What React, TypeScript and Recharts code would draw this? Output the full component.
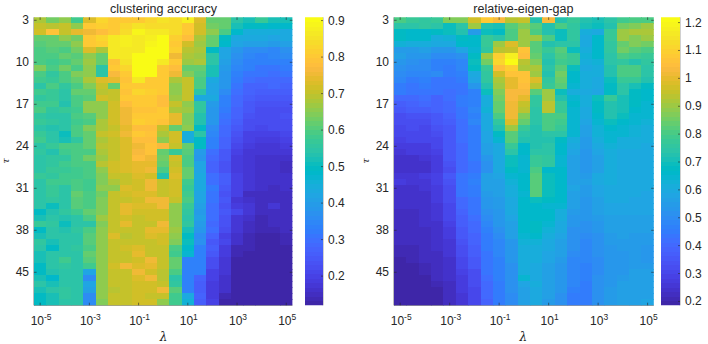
import { ScatterChart, Scatter, XAxis, YAxis } from "recharts";

const LAMBDA_EXP = [-5, -4.5, -4, -3.5, -3, -2.5, -2, -1.5, -1, -0.5, 0, 0.5, 1, 1.5, 2, 2.5, 3, 3.5, 4, 4.5, 5];
const TAU = [3, 4, 5, 6, 7, 8, 9, 10, 11, 12, 13, 14, 15, 16, 17, 18, 19, 20, 21, 22, 23, 24, 25, 26, 27, 28, 29, 30, 31, 32, 33, 34, 35, 36, 37, 38, 39, 40, 41, 42, 43, 44, 45, 46, 47, 48, 49, 50];
const LAMBDA_TICKS = [-5, -3, -1, 1, 3, 5];
const TAU_TICKS = [3, 10, 17, 24, 31, 38, 45];
const ACCURACY_TICKS = [0.2, 0.3, 0.4, 0.5, 0.6, 0.7, 0.8, 0.9];
const GAP_TICKS = [0.2, 0.3, 0.4, 0.5, 0.6, 0.7, 0.8, 0.9, 1, 1.1, 1.2];

// values in hundredths, one row per tau, one column per lambda
const ACCURACY = [
  [68, 63, 66, 58, 73, 83, 80, 80, 81, 83, 85, 84, 88, 73, 62, 62, 55, 52, 57, 52, 52],
  [70, 69, 70, 66, 81, 82, 81, 83, 85, 84, 84, 84, 81, 72, 63, 62, 52, 49, 49, 48, 48],
  [72, 79, 70, 74, 76, 78, 80, 84, 89, 86, 86, 84, 80, 72, 66, 59, 48, 45, 45, 45, 44],
  [62, 62, 66, 63, 80, 83, 86, 88, 87, 88, 90, 82, 78, 68, 62, 49, 44, 43, 43, 42, 43],
  [61, 62, 62, 66, 80, 82, 86, 88, 86, 89, 90, 81, 72, 67, 62, 48, 42, 41, 41, 40, 41],
  [60, 61, 60, 63, 73, 68, 86, 87, 87, 90, 91, 82, 69, 68, 49, 42, 38, 36, 36, 35, 37],
  [60, 60, 62, 61, 66, 62, 86, 87, 90, 91, 90, 76, 68, 67, 54, 42, 37, 35, 34, 35, 36],
  [60, 58, 60, 62, 67, 62, 79, 85, 91, 91, 87, 80, 67, 68, 54, 41, 36, 34, 33, 34, 33],
  [64, 60, 63, 60, 66, 55, 80, 83, 91, 91, 80, 78, 62, 62, 52, 40, 35, 33, 31, 31, 32],
  [60, 56, 60, 64, 66, 54, 77, 80, 91, 90, 80, 76, 64, 61, 52, 38, 34, 31, 31, 30, 31],
  [58, 57, 59, 62, 68, 73, 74, 79, 87, 80, 80, 68, 71, 60, 44, 38, 32, 30, 29, 29, 29],
  [55, 60, 56, 59, 64, 70, 62, 80, 81, 80, 80, 66, 71, 59, 42, 38, 31, 28, 28, 29, 28],
  [58, 57, 55, 62, 62, 69, 71, 79, 83, 82, 80, 66, 71, 54, 42, 36, 30, 27, 26, 26, 26],
  [56, 57, 55, 60, 61, 72, 71, 80, 80, 80, 78, 67, 71, 43, 44, 34, 29, 26, 25, 25, 25],
  [58, 58, 53, 60, 66, 66, 72, 78, 80, 80, 78, 70, 66, 56, 40, 33, 29, 25, 24, 24, 24],
  [60, 56, 57, 58, 66, 66, 72, 76, 79, 79, 81, 68, 67, 56, 38, 32, 28, 25, 23, 23, 23],
  [56, 55, 55, 59, 61, 66, 72, 76, 81, 80, 80, 74, 65, 53, 38, 31, 27, 24, 23, 23, 24],
  [57, 56, 55, 58, 60, 68, 72, 75, 82, 80, 79, 74, 65, 53, 38, 30, 26, 23, 22, 22, 23],
  [55, 53, 55, 60, 65, 68, 71, 74, 78, 78, 70, 62, 66, 50, 36, 29, 25, 22, 21, 22, 22],
  [57, 54, 51, 59, 62, 70, 72, 75, 80, 79, 68, 72, 45, 54, 35, 29, 24, 20, 20, 20, 21],
  [58, 55, 52, 56, 62, 68, 71, 73, 78, 78, 66, 72, 45, 50, 33, 27, 22, 20, 19, 19, 20],
  [55, 57, 60, 59, 62, 69, 71, 73, 75, 79, 77, 70, 62, 50, 33, 27, 21, 19, 18, 18, 19],
  [56, 53, 58, 60, 60, 68, 71, 73, 77, 79, 62, 57, 61, 40, 30, 25, 20, 18, 17, 17, 18],
  [55, 56, 56, 60, 63, 67, 70, 73, 78, 76, 63, 72, 60, 38, 29, 25, 19, 18, 16, 16, 16],
  [55, 56, 58, 59, 60, 69, 72, 73, 74, 74, 62, 71, 60, 42, 28, 24, 19, 17, 16, 16, 15],
  [55, 57, 57, 58, 60, 66, 72, 73, 74, 75, 60, 72, 62, 42, 28, 24, 19, 17, 16, 16, 15],
  [57, 56, 58, 58, 60, 65, 70, 70, 73, 72, 53, 73, 62, 44, 30, 26, 20, 18, 16, 16, 16],
  [55, 58, 58, 60, 58, 65, 68, 71, 72, 75, 70, 72, 58, 43, 30, 26, 20, 17, 16, 16, 16],
  [54, 57, 55, 59, 58, 66, 66, 73, 72, 75, 70, 72, 57, 43, 32, 25, 20, 17, 16, 15, 16],
  [54, 57, 55, 62, 60, 63, 70, 72, 73, 73, 71, 72, 58, 42, 31, 24, 20, 15, 15, 15, 15],
  [54, 56, 54, 61, 60, 65, 71, 71, 72, 76, 75, 70, 60, 42, 31, 25, 18, 16, 15, 15, 15],
  [54, 51, 55, 61, 60, 65, 70, 74, 73, 73, 75, 66, 57, 41, 30, 24, 19, 17, 15, 17, 15],
  [50, 53, 56, 58, 62, 65, 70, 74, 72, 72, 72, 66, 56, 40, 30, 25, 21, 17, 15, 15, 15],
  [52, 55, 53, 55, 60, 67, 70, 72, 71, 72, 72, 66, 54, 41, 30, 24, 18, 16, 14, 15, 15],
  [57, 56, 51, 55, 55, 65, 70, 74, 71, 71, 76, 66, 56, 40, 29, 24, 18, 15, 14, 15, 15],
  [50, 55, 53, 56, 60, 66, 70, 71, 71, 74, 74, 67, 52, 39, 30, 22, 17, 15, 14, 14, 15],
  [52, 54, 55, 54, 61, 66, 73, 69, 71, 73, 72, 66, 50, 36, 27, 20, 16, 14, 13, 13, 14],
  [56, 52, 54, 55, 61, 66, 70, 71, 71, 71, 72, 65, 51, 37, 25, 21, 16, 14, 13, 13, 14],
  [54, 50, 55, 56, 60, 66, 70, 72, 73, 71, 70, 60, 48, 34, 26, 19, 14, 14, 13, 13, 13],
  [52, 55, 55, 54, 62, 66, 70, 71, 74, 70, 70, 58, 47, 34, 25, 19, 14, 13, 13, 13, 13],
  [52, 54, 58, 55, 61, 66, 71, 70, 72, 75, 70, 62, 33, 34, 22, 18, 13, 13, 13, 13, 13],
  [49, 54, 56, 54, 58, 66, 72, 76, 73, 74, 70, 62, 34, 34, 22, 18, 13, 12, 13, 13, 12],
  [50, 53, 55, 54, 42, 66, 70, 70, 76, 72, 69, 60, 33, 34, 20, 17, 13, 12, 12, 12, 12],
  [52, 48, 55, 55, 36, 66, 71, 70, 73, 76, 69, 54, 33, 27, 20, 16, 13, 12, 12, 12, 12],
  [54, 52, 55, 54, 42, 66, 71, 70, 72, 72, 70, 56, 33, 26, 19, 16, 13, 12, 12, 12, 12],
  [52, 54, 56, 55, 41, 66, 69, 70, 72, 72, 75, 61, 33, 26, 19, 16, 12, 12, 12, 12, 12],
  [50, 52, 56, 54, 36, 66, 71, 70, 72, 71, 70, 58, 44, 27, 19, 14, 12, 12, 12, 12, 12],
  [49, 52, 55, 54, 36, 64, 70, 70, 72, 72, 66, 58, 46, 26, 20, 13, 12, 12, 12, 12, 12],
];

const EIGEN_GAP = [
  [80, 77, 76, 78, 88, 87, 97, 108, 104, 94, 95, 72, 104, 73, 77, 73, 71, 75, 79, 80, 80],
  [74, 74, 76, 74, 70, 75, 90, 72, 71, 82, 87, 82, 73, 80, 76, 71, 70, 73, 86, 88, 90],
  [68, 67, 67, 68, 69, 73, 55, 70, 68, 80, 90, 80, 72, 69, 76, 61, 60, 77, 90, 92, 92],
  [68, 67, 67, 62, 63, 68, 67, 78, 75, 80, 90, 90, 80, 70, 76, 60, 66, 77, 90, 88, 90],
  [63, 62, 62, 60, 60, 66, 66, 78, 90, 98, 90, 82, 72, 75, 74, 60, 67, 76, 84, 88, 85],
  [55, 55, 56, 54, 53, 58, 65, 76, 94, 96, 106, 82, 77, 82, 69, 62, 67, 76, 86, 82, 80],
  [56, 54, 54, 50, 50, 52, 68, 90, 110, 118, 105, 84, 74, 80, 78, 63, 66, 74, 80, 79, 78],
  [53, 51, 50, 47, 47, 49, 70, 86, 112, 121, 94, 87, 73, 79, 77, 62, 63, 74, 76, 72, 76],
  [51, 50, 50, 47, 46, 49, 68, 78, 105, 110, 92, 92, 75, 83, 70, 60, 62, 72, 80, 80, 75],
  [50, 48, 49, 50, 45, 47, 60, 76, 97, 107, 106, 90, 73, 86, 66, 62, 61, 72, 80, 80, 74],
  [48, 46, 47, 44, 44, 46, 58, 76, 92, 100, 106, 98, 76, 84, 66, 61, 60, 70, 78, 77, 73],
  [45, 44, 45, 44, 43, 43, 54, 73, 90, 100, 105, 94, 78, 82, 65, 61, 59, 68, 74, 71, 68],
  [45, 44, 44, 43, 42, 43, 47, 70, 88, 104, 103, 82, 90, 70, 62, 60, 58, 68, 74, 68, 66],
  [40, 41, 42, 39, 42, 46, 47, 62, 85, 103, 100, 76, 90, 73, 65, 61, 69, 77, 71, 68, 66],
  [37, 39, 40, 39, 40, 45, 47, 62, 84, 102, 95, 76, 94, 78, 66, 61, 68, 73, 71, 68, 65],
  [35, 37, 37, 38, 40, 44, 48, 63, 84, 102, 94, 74, 93, 78, 65, 60, 68, 73, 71, 67, 65],
  [33, 34, 34, 36, 39, 44, 47, 60, 80, 102, 88, 75, 80, 80, 65, 59, 67, 73, 69, 65, 65],
  [32, 33, 32, 36, 37, 42, 48, 60, 76, 98, 84, 75, 80, 79, 64, 58, 65, 70, 67, 65, 63],
  [31, 32, 31, 34, 35, 42, 46, 60, 73, 90, 78, 73, 80, 77, 64, 57, 63, 67, 65, 63, 62],
  [30, 31, 31, 33, 36, 42, 46, 58, 68, 83, 75, 72, 75, 74, 64, 56, 63, 65, 64, 63, 62],
  [29, 30, 30, 31, 35, 42, 46, 58, 64, 82, 72, 72, 72, 68, 62, 55, 61, 65, 62, 61, 61],
  [27, 27, 27, 30, 36, 41, 46, 56, 60, 77, 66, 72, 74, 66, 60, 55, 59, 63, 61, 61, 60],
  [26, 27, 27, 29, 35, 41, 46, 56, 60, 74, 66, 74, 75, 66, 58, 53, 58, 62, 60, 59, 60],
  [25, 25, 26, 28, 35, 41, 46, 54, 60, 70, 64, 78, 76, 64, 56, 53, 57, 61, 59, 59, 59],
  [24, 24, 25, 28, 34, 41, 44, 52, 60, 70, 64, 78, 76, 65, 56, 53, 57, 61, 59, 59, 59],
  [24, 24, 25, 27, 33, 41, 44, 52, 60, 68, 64, 80, 66, 66, 56, 53, 57, 61, 59, 59, 59],
  [26, 26, 27, 29, 36, 44, 46, 56, 58, 64, 66, 82, 70, 67, 57, 55, 59, 61, 60, 59, 59],
  [27, 26, 26, 29, 34, 44, 47, 56, 57, 63, 66, 83, 69, 67, 57, 56, 59, 61, 60, 60, 59],
  [25, 25, 26, 28, 33, 43, 46, 56, 57, 62, 66, 83, 70, 67, 58, 55, 58, 60, 59, 59, 59],
  [25, 25, 25, 28, 33, 43, 46, 55, 56, 61, 65, 83, 70, 66, 57, 55, 58, 60, 59, 59, 58],
  [24, 24, 25, 27, 32, 41, 43, 54, 55, 60, 66, 70, 68, 66, 56, 54, 57, 59, 59, 58, 58],
  [24, 24, 24, 26, 31, 40, 43, 53, 55, 60, 66, 66, 65, 64, 56, 53, 57, 58, 58, 58, 58],
  [23, 23, 24, 26, 31, 39, 44, 52, 54, 60, 66, 66, 66, 62, 55, 53, 56, 58, 58, 58, 58],
  [23, 23, 24, 26, 30, 37, 42, 50, 53, 58, 66, 66, 66, 61, 54, 53, 55, 57, 57, 57, 57],
  [22, 22, 24, 25, 29, 37, 41, 49, 53, 57, 66, 68, 64, 60, 53, 52, 54, 57, 57, 57, 56],
  [22, 22, 23, 25, 28, 35, 40, 47, 51, 56, 66, 68, 63, 59, 52, 51, 53, 56, 56, 56, 56],
  [22, 22, 23, 25, 27, 35, 39, 46, 50, 56, 65, 67, 62, 58, 52, 50, 52, 55, 56, 55, 55],
  [22, 22, 22, 24, 26, 34, 38, 45, 49, 54, 63, 63, 60, 57, 51, 49, 52, 55, 55, 55, 55],
  [21, 21, 22, 24, 26, 32, 37, 45, 49, 54, 62, 62, 59, 56, 51, 49, 51, 54, 55, 55, 54],
  [21, 21, 22, 23, 26, 32, 37, 44, 48, 53, 62, 62, 58, 56, 50, 48, 51, 54, 54, 55, 54],
  [20, 21, 22, 23, 25, 31, 36, 43, 47, 53, 62, 62, 58, 55, 49, 48, 50, 53, 54, 55, 54],
  [19, 20, 21, 23, 25, 30, 35, 43, 47, 52, 61, 60, 57, 54, 49, 47, 50, 53, 54, 55, 55],
  [19, 20, 21, 22, 24, 29, 33, 43, 47, 52, 62, 60, 57, 54, 49, 47, 50, 53, 54, 56, 56],
  [19, 19, 20, 22, 24, 28, 33, 42, 47, 52, 64, 60, 57, 54, 49, 47, 51, 53, 55, 56, 57],
  [19, 19, 19, 21, 23, 27, 32, 41, 46, 52, 58, 61, 56, 53, 48, 46, 51, 54, 56, 57, 57],
  [19, 19, 19, 20, 23, 27, 31, 40, 46, 52, 57, 60, 56, 53, 47, 46, 51, 55, 56, 57, 57],
  [18, 19, 19, 20, 22, 26, 31, 40, 46, 50, 56, 60, 56, 52, 46, 45, 51, 55, 57, 57, 57],
  [18, 18, 19, 20, 22, 26, 31, 39, 46, 50, 56, 60, 55, 52, 46, 45, 52, 55, 57, 57, 58],
];

// MATLAB parula, 64 steps
const PARULA = [
  [0.2422, 0.1504, 0.6603], [0.2504, 0.165, 0.7076], [0.2578, 0.1818, 0.7511], [0.2647, 0.1978, 0.7952],
  [0.2706, 0.2147, 0.8364], [0.2751, 0.2342, 0.871], [0.2783, 0.2559, 0.8991], [0.2803, 0.2782, 0.9221],
  [0.2813, 0.3006, 0.9414], [0.281, 0.3228, 0.9579], [0.2795, 0.3447, 0.9717], [0.276, 0.3667, 0.9829],
  [0.2699, 0.3892, 0.9906], [0.2602, 0.4123, 0.9952], [0.244, 0.4358, 0.9988], [0.2206, 0.4603, 0.9973],
  [0.1963, 0.4847, 0.9892], [0.1834, 0.5074, 0.9798], [0.1786, 0.5289, 0.9682], [0.1764, 0.5499, 0.952],
  [0.1687, 0.5703, 0.9359], [0.154, 0.5902, 0.9218], [0.146, 0.6091, 0.9079], [0.138, 0.6276, 0.8973],
  [0.1248, 0.6459, 0.8883], [0.1113, 0.6635, 0.8763], [0.0952, 0.6798, 0.8598], [0.0689, 0.6948, 0.8394],
  [0.0297, 0.7082, 0.8163], [0.0036, 0.7203, 0.7917], [0.0067, 0.7312, 0.766], [0.0433, 0.7411, 0.7394],
  [0.0964, 0.75, 0.712], [0.1408, 0.7584, 0.6842], [0.1717, 0.767, 0.6554], [0.1938, 0.7758, 0.6251],
  [0.2161, 0.7843, 0.5923], [0.247, 0.7918, 0.5567], [0.2906, 0.7973, 0.5188], [0.3406, 0.8008, 0.4789],
  [0.3909, 0.8029, 0.4354], [0.4456, 0.8024, 0.3909], [0.5044, 0.7993, 0.348], [0.5616, 0.7942, 0.3045],
  [0.6174, 0.7876, 0.2612], [0.672, 0.7793, 0.2227], [0.7242, 0.7698, 0.191], [0.7738, 0.7598, 0.1646],
  [0.8203, 0.7498, 0.1535], [0.8634, 0.7406, 0.1596], [0.9035, 0.733, 0.1774], [0.9393, 0.7288, 0.21],
  [0.9728, 0.7298, 0.2394], [0.9956, 0.7434, 0.2371], [0.997, 0.7659, 0.2199], [0.9952, 0.7893, 0.2028],
  [0.9892, 0.8136, 0.1885], [0.9786, 0.8386, 0.1766], [0.9676, 0.8639, 0.1643], [0.961, 0.889, 0.1537],
  [0.9597, 0.9135, 0.1423], [0.9628, 0.9373, 0.1265], [0.9691, 0.9606, 0.1064], [0.9769, 0.9839, 0.0805],
];

const FONT = "'Liberation Sans', Arial, sans-serif";
const TEXT = "#262626";
const TOP = 17.3;
const BOTTOM = 305.3;
const PLOT_H = BOTTOM - TOP;

function parula(v: number, lo: number, hi: number) {
  const i = Math.max(0, Math.min(63, Math.floor(((v - lo) / (hi - lo)) * 64)));
  const [r, g, b] = PARULA[i];
  return `rgb(${Math.round(r * 255)},${Math.round(g * 255)},${Math.round(b * 255)})`;
}

function toCells(rows: number[][]) {
  return rows.flatMap((row, i) => row.map((v, j) => ({ x: LAMBDA_EXP[j], y: TAU[i], v: v / 100 })));
}

interface PanelProps {
  title: string;
  rows: number[][];
  left: number;
  right: number;
  lo: number;
  hi: number;
}

function HeatPanel({ title, rows, left, right, lo, hi }: PanelProps) {
  const w = right - left;
  const cw = w / LAMBDA_EXP.length;
  const ch = PLOT_H / TAU.length;
  const chartLeft = left - 34;
  return (
    <div style={{ position: "absolute", left: chartLeft, top: 0 }}>
      <ScatterChart width={w + 44} height={344} margin={{ top: TOP, right: 10, bottom: 344 - BOTTOM - 38, left: 0 }}>
        <XAxis
          type="number" dataKey="x" domain={[-5.25, 5.25]} ticks={LAMBDA_TICKS} interval={0} height={38}
          stroke={TEXT} strokeWidth={0.6} tickLine={false} allowDataOverflow
          tick={(p: any) => (
            <g fontFamily={FONT} fontSize={12} fill={TEXT}>
              <line x1={p.x} x2={p.x} y1={BOTTOM} y2={BOTTOM - 2.6} stroke={TEXT} strokeWidth={0.6} />
              <line x1={p.x} x2={p.x} y1={TOP} y2={TOP + 2.6} stroke={TEXT} strokeWidth={0.6} />
              <text x={p.x + 1} y={BOTTOM + 20} textAnchor="middle">
                10<tspan dy={-5} fontSize={8.5}>{p.payload.value}</tspan>
              </text>
            </g>
          )}
        />
        <YAxis
          type="number" dataKey="y" domain={[2.5, 50.5]} reversed ticks={TAU_TICKS} interval={0} width={34}
          stroke={TEXT} strokeWidth={0.6} tickLine={false} allowDataOverflow
          tick={(p: any) => (
            <g fontFamily={FONT} fontSize={12} fill={TEXT}>
              <line x1={34} x2={36.6} y1={p.y} y2={p.y} stroke={TEXT} strokeWidth={0.6} />
              <line x1={34 + w} x2={34 + w - 2.6} y1={p.y} y2={p.y} stroke={TEXT} strokeWidth={0.6} />
              <text x={29} y={p.y + 4} textAnchor="end">{p.payload.value}</text>
            </g>
          )}
        />
        <Scatter
          data={toCells(rows)}
          isAnimationActive={false}
          shape={(p: any) => (
            <rect
              x={p.cx - cw / 2} y={p.cy - ch / 2} width={cw + 0.6} height={ch + 0.6}
              fill={parula(p.payload.v, lo, hi)} shapeRendering="crispEdges"
            />
          )}
        />
      </ScatterChart>
      <div style={{ position: "absolute", left: 34, width: w, top: 2, textAlign: "center", fontFamily: FONT, fontSize: 12.5, lineHeight: "14px", color: TEXT }}>
        {title}
      </div>
      <div style={{ position: "absolute", left: 34, width: w, top: 331, textAlign: "center", fontFamily: "'DejaVu Serif', serif", fontStyle: "italic", fontSize: 12, lineHeight: "13px", color: TEXT }}>
        λ
      </div>
      <div style={{ position: "absolute", left: 3, top: 156, transform: "rotate(-90deg)", fontFamily: "'DejaVu Serif', serif", fontStyle: "italic", fontSize: 10, lineHeight: "10px", color: TEXT }}>
        τ
      </div>
    </div>
  );
}

interface BarProps {
  left: number;
  right: number;
  lo: number;
  hi: number;
  ticks: number[];
}

function ColorBar({ left, right, lo, hi, ticks }: BarProps) {
  const w = right - left;
  const step = (hi - lo) / PARULA.length;
  const levels = PARULA.map((_, i) => ({ x: 0, y: lo + (i + 0.5) * step }));
  const ch = PLOT_H / PARULA.length;
  return (
    <div style={{ position: "absolute", left, top: 0 }}>
      <ScatterChart width={w + 30} height={344} margin={{ top: TOP, right: 0, bottom: 344 - BOTTOM, left: 0 }}>
        <XAxis type="number" dataKey="x" domain={[-1, 1]} hide />
        <YAxis
          type="number" dataKey="y" orientation="right" domain={[lo, hi]} ticks={ticks} interval={0} width={30}
          stroke="#8c8c8c" strokeWidth={0.8} tickLine={false} allowDataOverflow
          tick={(p: any) => (
            <g fontFamily={FONT} fontSize={12} fill={TEXT}>
              <line x1={w} x2={w - 2} y1={p.y} y2={p.y} stroke={TEXT} strokeWidth={0.6} />
              <text x={w + 5} y={p.y + 4}>{p.payload.value}</text>
            </g>
          )}
        />
        <Scatter
          data={levels}
          isAnimationActive={false}
          shape={(p: any) => (
            <rect x={0} y={p.cy - ch / 2} width={w} height={ch + 0.6} fill={parula(p.payload.y, lo, hi)} shapeRendering="crispEdges" />
          )}
        />
      </ScatterChart>
    </div>
  );
}

export default function App() {
  return (
    <div style={{ position: "absolute", left: 0, top: 0, width: 708, height: 344, background: "#fff", overflow: "hidden" }}>
      <HeatPanel title="clustering accuracy" rows={ACCURACY} left={34.3} right={292.7} lo={0.12} hi={0.909} />
      <ColorBar left={304.7} right={322.7} lo={0.12} hi={0.909} ticks={ACCURACY_TICKS} />
      <HeatPanel title="relative-eigen-gap" rows={EIGEN_GAP} left={393.5} right={653.3} lo={0.186} hi={1.219} />
      <ColorBar left={661} right={680} lo={0.186} hi={1.219} ticks={GAP_TICKS} />
    </div>
  );
}
